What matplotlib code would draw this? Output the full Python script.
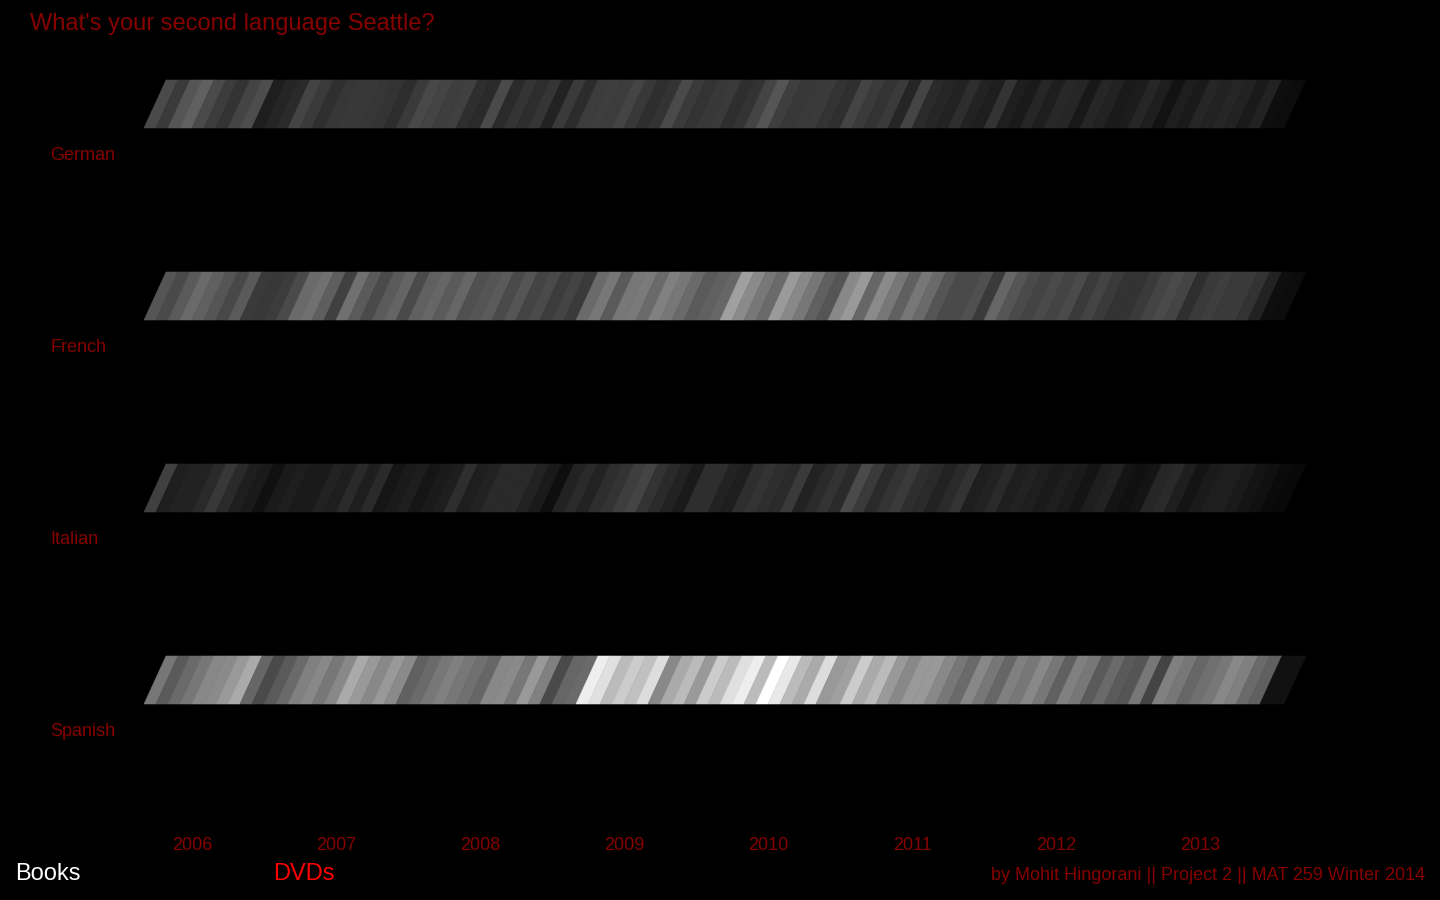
import matplotlib
matplotlib.use("Agg")
import matplotlib.pyplot as plt
from matplotlib.collections import PolyCollection

plt.rcParams['font.family'] = ['Liberation Sans', 'DejaVu Sans']

# data: monthly gray level (0-255) per language, Jan 2006 .. Nov 2013
languages = ['German', 'French', 'Italian', 'Spanish']
years = [2006, 2007, 2008, 2009, 2010, 2011, 2012, 2013]

german = [0x4a, 0x3a, 0x55, 0x60, 0x4a, 0x3c, 0x33, 0x44, 0x4d, 0x1e, 0x25, 0x2a, 0x44, 0x3a, 0x2f, 0x36,
          0x38, 0x38, 0x36, 0x33, 0x2d, 0x3a, 0x48, 0x44, 0x3e, 0x40, 0x2e, 0x2a, 0x4a, 0x2a, 0x34, 0x2d,
          0x35, 0x22, 0x3a, 0x2c, 0x3c, 0x3e, 0x3c, 0x44, 0x38, 0x2e, 0x33, 0x4a, 0x3a, 0x33, 0x38, 0x3a,
          0x2e, 0x33, 0x44, 0x55, 0x3e, 0x38, 0x39, 0x3a, 0x33, 0x2f, 0x44, 0x3a, 0x33, 0x3a, 0x25, 0x44,
          0x2a, 0x26, 0x22, 0x2e, 0x22, 0x1e, 0x33, 0x1e, 0x1a, 0x26, 0x1e, 0x28, 0x26, 0x18, 0x26, 0x22,
          0x1a, 0x1c, 0x26, 0x1e, 0x12, 0x1e, 0x1a, 0x26, 0x22, 0x26, 0x22, 0x1a, 0x22, 0x0e, 0x0c]

french = [0x55, 0x4a, 0x5a, 0x6a, 0x60, 0x55, 0x48, 0x5a, 0x3a, 0x38, 0x3c, 0x4a, 0x6a, 0x70, 0x5e, 0x40,
          0x70, 0x5a, 0x4a, 0x5a, 0x64, 0x4a, 0x60, 0x66, 0x5a, 0x66, 0x50, 0x55, 0x5a, 0x4a, 0x55, 0x44,
          0x4a, 0x3c, 0x44, 0x3a, 0x6a, 0x77, 0x5a, 0x77, 0x7a, 0x6a, 0x80, 0x77, 0x6a, 0x5a, 0x60, 0x66,
          0xa0, 0x8a, 0x77, 0x6a, 0x9a, 0x88, 0x77, 0x60, 0x55, 0x88, 0x99, 0x66, 0x8a, 0x77, 0x60, 0x77,
          0x6a, 0x55, 0x4a, 0x4a, 0x50, 0x3a, 0x66, 0x55, 0x4a, 0x44, 0x4a, 0x44, 0x4a, 0x3a, 0x44, 0x3a,
          0x33, 0x33, 0x3a, 0x44, 0x4a, 0x44, 0x2e, 0x3a, 0x3e, 0x3a, 0x3a, 0x33, 0x22, 0x0e, 0x0c]

italian = [0x40, 0x1e, 0x22, 0x22, 0x2a, 0x38, 0x2a, 0x1e, 0x1a, 0x10, 0x1a, 0x1e, 0x1a, 0x1a, 0x22, 0x1e,
           0x2a, 0x1e, 0x2a, 0x15, 0x1a, 0x1e, 0x15, 0x1a, 0x1e, 0x2e, 0x1e, 0x22, 0x2a, 0x2a, 0x2a, 0x22,
           0x1a, 0x0e, 0x22, 0x2a, 0x22, 0x2e, 0x33, 0x3e, 0x44, 0x33, 0x2a, 0x22, 0x1a, 0x2e, 0x2e, 0x22,
           0x1e, 0x2e, 0x33, 0x2e, 0x2a, 0x3a, 0x22, 0x2a, 0x33, 0x2a, 0x4a, 0x3a, 0x2a, 0x33, 0x3a, 0x2e,
           0x2a, 0x22, 0x2a, 0x33, 0x1e, 0x22, 0x2a, 0x1e, 0x22, 0x1e, 0x1a, 0x1e, 0x1a, 0x14, 0x1e, 0x22,
           0x14, 0x10, 0x14, 0x26, 0x2a, 0x1e, 0x14, 0x1a, 0x1e, 0x1e, 0x1a, 0x14, 0x10, 0x0a, 0x08]

spanish = [0x77, 0x5a, 0x6a, 0x77, 0x88, 0x8a, 0x99, 0xaa, 0x66, 0x4a, 0x5a, 0x6a, 0x80, 0x88, 0x77, 0x88,
           0xaa, 0x99, 0x88, 0x99, 0x8a, 0x60, 0x6a, 0x77, 0x80, 0x77, 0x70, 0x66, 0x88, 0x8a, 0x77, 0x99,
           0x80, 0x4a, 0x66, 0x6a, 0xee, 0xe0, 0xbb, 0xcc, 0xc0, 0xdd, 0x88, 0xaa, 0xbb, 0x99, 0xcc, 0xbb,
           0xe0, 0xee, 0xbb, 0xff, 0xe8, 0xbb, 0xaa, 0xdd, 0x99, 0xa0, 0xcc, 0xaa, 0xbb, 0x99, 0x88, 0x99,
           0x99, 0x88, 0x77, 0x6a, 0x88, 0x77, 0x66, 0x80, 0x77, 0x88, 0x77, 0x60, 0x80, 0x77, 0x5a, 0x6a,
           0x5a, 0x55, 0x77, 0x44, 0x80, 0x77, 0x66, 0x70, 0x77, 0x88, 0x80, 0x6a, 0x60, 0x11, 0x11]

series = [german, french, italian, spanish]

red_dark = '#860000'
bg = '#000000'
slant = 22 / 12   # top edge shift, in months
band_h = 0.25     # band height, in rows

fig = plt.figure(figsize=(14.4, 9), dpi=100, facecolor=bg)
ax = fig.add_axes([0, 0, 1, 1])
ax.set_facecolor(bg)
ax.axis('off')
ax.set_xlim(-12, 108)
ax.set_ylim(772 / 192, -128 / 192)

for r, vals in enumerate(series):
    polys = []
    cols = []
    for i, g in enumerate(vals):
        polys.append([(i, r), (i + 1, r), (i + 1 + slant, r - band_h), (i + slant, r - band_h)])
        cols.append((g / 255, g / 255, g / 255))
    pc = PolyCollection(polys, facecolors=cols, edgecolors=cols, linewidths=0.4)
    ax.add_collection(pc)
    ax.text(-94 / 12, r + 27 / 192, languages[r], color=red_dark, fontsize=13,
            ha='left', va='center')

for k, y in enumerate(years):
    ax.text(4 + 12 * k, 717 / 192, str(y), color=red_dark, fontsize=13,
            ha='center', va='center')

fig.text(30 / 1440, 1 - 24 / 900, "What's your second language Seattle?", color=red_dark,
         fontsize=17, ha='left', va='center')
fig.text(15 / 1440, 1 - 874 / 900, 'Books', color='white', fontsize=17, ha='left', va='center')
fig.text(273 / 1440, 1 - 874 / 900, 'DVDs', color='#ff0000', fontsize=17, ha='left', va='center')
fig.text(1425 / 1440, 1 - 876 / 900, 'by Mohit Hingorani || Project 2 || MAT 259 Winter 2014',
         color=red_dark, fontsize=13, ha='right', va='center')

fig.savefig('out.png', dpi=100, facecolor=bg)
